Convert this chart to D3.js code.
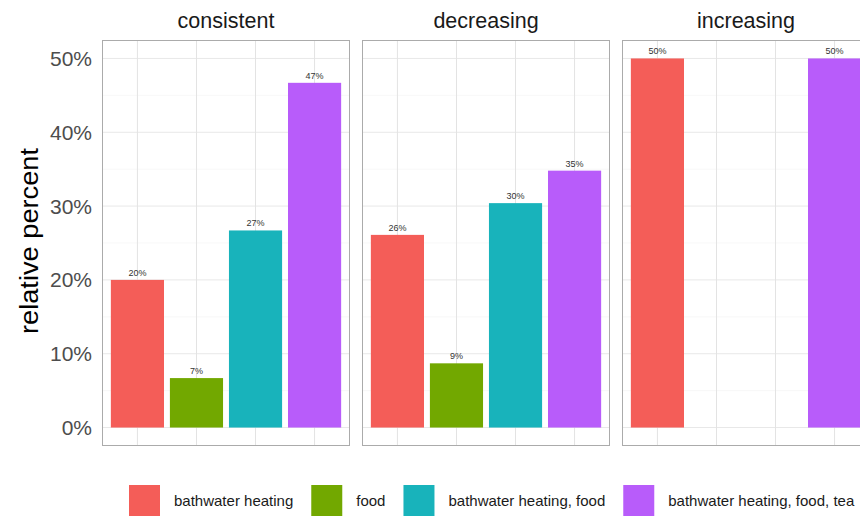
<!DOCTYPE html>
<html>
<head>
<meta charset="utf-8">
<script src="https://cdn.jsdelivr.net/npm/d3@7"></script>
<style>
  html, body { margin: 0; padding: 0; background: #fff; }
  svg { display: block; font-family: "Liberation Sans", Arial, sans-serif; }
</style>
</head>
<body>
<svg id="chart" width="860" height="529"></svg>
<script>
// ---- data ----
const facets = ["consistent", "decreasing", "increasing"];
const categories = ["bathwater heating", "food", "bathwater heating, food", "bathwater heating, food, tea"];
const consistentValues = [20.0, 6.7, 26.7, 46.7];
const decreasingValues = [26.1, 8.7, 30.4, 34.8];
const increasingValues = [50.0, null, null, 50.0];
const yTicks = [0, 10, 20, 30, 40, 50];
const colors = ["#F45D58", "#72A800", "#18B3BB", "#B85CFA"];
const yTitle = "relative percent";

const seriesByFacet = {
  consistent: consistentValues,
  decreasing: decreasingValues,
  increasing: increasingValues
};

// ---- layout ----
const svg = d3.select("#chart");
const panelTop = 40, panelBottom = 446;

const fx = d3.scaleBand().domain(facets).range([102, 870]).paddingInner(12 / 260).paddingOuter(0);
const x = d3.scaleBand().domain(categories).range([0, fx.bandwidth()]).paddingInner(0.1).paddingOuter(0.15);
const y = d3.scaleLinear().domain([-2.5, 52.5]).range([panelBottom, panelTop]);
const color = d3.scaleOrdinal().domain(categories).range(colors);
const minorTicks = d3.range(5, 55, 10);

facets.forEach(f => {
  const g = svg.append("g").attr("transform", `translate(${fx(f)},0)`);
  const w = fx.bandwidth();

  g.selectAll(".minor").data(minorTicks).join("line")
    .attr("x1", 0).attr("x2", w)
    .attr("y1", d => y(d)).attr("y2", d => y(d))
    .attr("stroke", "#f3f3f3").attr("stroke-width", 0.6);
  g.selectAll(".major").data(yTicks).join("line")
    .attr("x1", 0).attr("x2", w)
    .attr("y1", d => y(d)).attr("y2", d => y(d))
    .attr("stroke", "#e8e8e8").attr("stroke-width", 1);
  g.selectAll(".vgrid").data(categories).join("line")
    .attr("x1", d => x(d) + x.bandwidth() / 2).attr("x2", d => x(d) + x.bandwidth() / 2)
    .attr("y1", panelTop).attr("y2", panelBottom)
    .attr("stroke", "#e3e3e3").attr("stroke-width", 1);

  const vals = seriesByFacet[f];
  const data = categories.map((c, i) => ({ c, v: vals[i] })).filter(d => d.v != null);

  g.selectAll(".bar").data(data).join("rect")
    .attr("x", d => x(d.c)).attr("width", x.bandwidth())
    .attr("y", d => y(d.v)).attr("height", d => y(0) - y(d.v))
    .attr("fill", d => color(d.c));

  g.selectAll(".lab").data(data).join("text")
    .attr("x", d => x(d.c) + x.bandwidth() / 2)
    .attr("y", d => y(d.v) - 4)
    .attr("text-anchor", "middle")
    .attr("font-size", 9).attr("fill", "#333")
    .text(d => Math.round(d.v) + "%");

  g.append("rect").attr("x", 0.5).attr("y", panelTop + 0.5)
    .attr("width", w - 1).attr("height", panelBottom - panelTop - 1)
    .attr("fill", "none").attr("stroke", "#ababab").attr("stroke-width", 1);

  g.append("text").attr("x", w / 2).attr("y", 28)
    .attr("text-anchor", "middle").attr("font-size", 21.5).attr("fill", "#1a1a1a")
    .text(f);
});

// y axis labels
svg.append("g").selectAll("text").data(yTicks).join("text")
  .attr("x", 92).attr("y", d => y(d))
  .attr("dy", "0.36em")
  .attr("text-anchor", "end").attr("font-size", 21).attr("fill", "#4d4d4d")
  .text(d => d + "%");

// y title
svg.append("text")
  .attr("transform", `translate(29,241) rotate(-90)`)
  .attr("text-anchor", "middle").attr("dy", "0.35em")
  .attr("font-size", 25).attr("fill", "#000")
  .attr("textLength", 186).attr("lengthAdjust", "spacingAndGlyphs")
  .text(yTitle);

// legend
const leg = svg.append("g");
let lx = 129;
categories.forEach(c => {
  leg.append("rect").attr("x", lx).attr("y", 485).attr("width", 31).attr("height", 31)
    .attr("fill", color(c));
  const t = leg.append("text").attr("x", lx + 45).attr("y", 500.5).attr("dy", "0.35em")
    .attr("font-size", 15).attr("fill", "#1a1a1a").text(c);
  lx = lx + 45 + t.node().getComputedTextLength() + 18;
});
</script>
</body>
</html>
